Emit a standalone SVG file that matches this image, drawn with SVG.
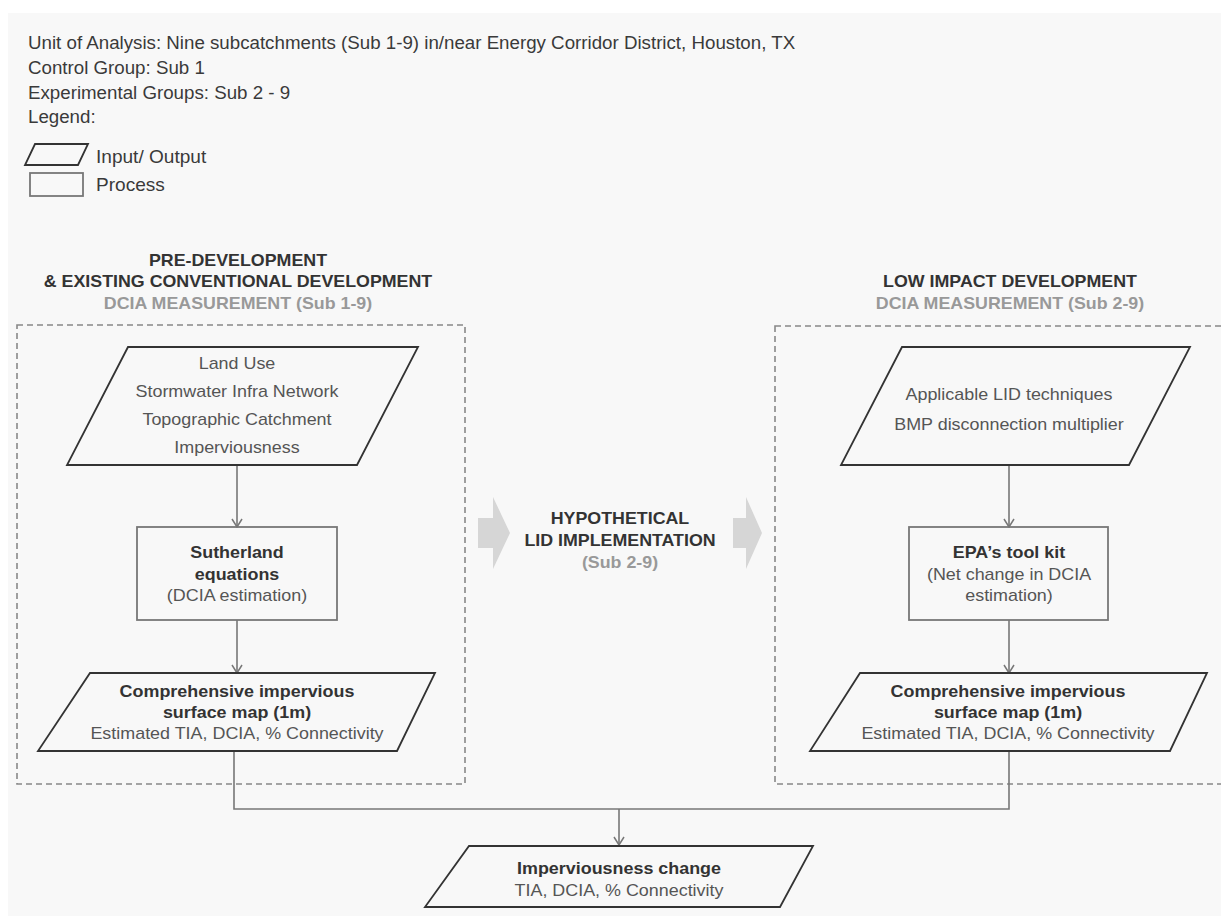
<svg xmlns="http://www.w3.org/2000/svg" width="1221" height="916" viewBox="0 0 1221 916">
<defs>
<style>
text{font-family:"Liberation Sans",Arial,sans-serif;}
.hd{font-size:17.5px;fill:#3a3a3a;}
.tt{font-size:16.5px;font-weight:bold;fill:#333;}
.tg{font-size:16.5px;font-weight:bold;fill:#999;}
.n{font-size:16px;fill:#555;}
.b{font-size:16px;font-weight:bold;fill:#333;}
.io{fill:none;stroke:#333;stroke-width:1.8;}
.pr{fill:none;stroke:#777;stroke-width:1.8;}
.dash{fill:none;stroke:#888;stroke-width:1.6;stroke-dasharray:6 4;}
.con{fill:none;stroke:#777;stroke-width:1.6;}
.blk{fill:#d6d6d6;}
</style>
<marker id="arr" viewBox="-1 -6 10 12" refX="8" refY="0" markerWidth="10" markerHeight="12" markerUnits="userSpaceOnUse" orient="auto">
<path d="M0,-5 L8,0 L0,5" fill="none" stroke="#777" stroke-width="1.5"/>
</marker>
</defs>
<rect x="0" y="0" width="1221" height="916" fill="#ffffff"/>
<rect x="8" y="13" width="1213" height="903" fill="#f8f8f8"/>

<g id="header" transform="translate(28,0) scale(1.07,1)">
<text class="hd" x="0" y="49">Unit of Analysis: Nine subcatchments (Sub 1-9) in/near Energy Corridor District, Houston, TX</text>
<text class="hd" x="0" y="74">Control Group: Sub 1</text>
<text class="hd" x="0" y="99">Experimental Groups: Sub 2 - 9</text>
<text class="hd" x="0" y="123">Legend:</text>
</g>
<g id="legend">
<polygon class="io" points="35,144 88,144 78,165 25,165"/>
<rect x="30" y="173" width="53" height="23" class="pr"/>
<g transform="translate(96,0) scale(1.09,1)">
<text class="hd" x="0" y="163">Input/ Output</text>
<text class="hd" x="0" y="191">Process</text>
</g>
</g>

<g id="title-left" transform="translate(238,0) scale(1.08,1)">
<text class="tt" x="0" y="266" text-anchor="middle">PRE-DEVELOPMENT</text>
<text class="tt" x="0" y="287" text-anchor="middle">&amp; EXISTING CONVENTIONAL DEVELOPMENT</text>
<text class="tg" x="0" y="309" text-anchor="middle">DCIA MEASUREMENT (Sub 1-9)</text>
</g>
<g id="title-right" transform="translate(1010,0) scale(1.08,1)">
<text class="tt" x="0" y="287" text-anchor="middle">LOW IMPACT DEVELOPMENT</text>
<text class="tg" x="0" y="309" text-anchor="middle">DCIA MEASUREMENT (Sub 2-9)</text>
</g>

<g id="group-left"><rect class="dash" x="17" y="325" width="448" height="459"/></g>
<g id="group-right"><rect class="dash" x="775" y="326" width="455" height="458"/></g>

<g id="connectors">
<path class="con" d="M237,465 V527" marker-end="url(#arr)"/>
<path class="con" d="M237,620 V673" marker-end="url(#arr)"/>
<path class="con" d="M1009,465 V527" marker-end="url(#arr)"/>
<path class="con" d="M1009,620 V673" marker-end="url(#arr)"/>
<path class="con" d="M234,751 V809 H1009 V751"/>
<path class="con" d="M619,809 V845" marker-end="url(#arr)"/>
</g>

<g id="lid-implementation">
<polygon class="blk" points="478,518 493,518 493,497 510,533 493,569 493,548 478,548"/>
<polygon class="blk" points="733,518 746,518 746,497 762,533 746,569 746,548 733,548"/>
<g transform="translate(620,0) scale(1.08,1)">
<text class="tt" x="0" y="524" text-anchor="middle">HYPOTHETICAL</text>
<text class="tt" x="0" y="546" text-anchor="middle">LID IMPLEMENTATION</text>
<text class="tg" x="0" y="568" text-anchor="middle">(Sub 2-9)</text>
</g>
</g>

<g id="input-left">
<polygon class="io" points="128,347 418,347 357,465 67,465"/>
<g transform="translate(237,0) scale(1.12,1)">
<text class="n" x="0" y="369" text-anchor="middle">Land Use</text>
<text class="n" x="0" y="397" text-anchor="middle">Stormwater Infra Network</text>
<text class="n" x="0" y="425" text-anchor="middle">Topographic Catchment</text>
<text class="n" x="0" y="453" text-anchor="middle">Imperviousness</text>
</g>
</g>

<g id="process-left">
<rect class="pr" x="137" y="527" width="200" height="93"/>
<g transform="translate(237,0) scale(1.12,1)">
<text class="b" x="0" y="558" text-anchor="middle">Sutherland</text>
<text class="b" x="0" y="580" text-anchor="middle">equations</text>
<text class="n" x="0" y="601" text-anchor="middle">(DCIA estimation)</text>
</g>
</g>

<g id="output-left">
<polygon class="io" points="90,673 435,673 397,751 38,751"/>
<g transform="translate(237,0) scale(1.12,1)">
<text class="b" x="0" y="697" text-anchor="middle">Comprehensive impervious</text>
<text class="b" x="0" y="718" text-anchor="middle">surface map (1m)</text>
<text class="n" x="0" y="739" text-anchor="middle">Estimated TIA, DCIA, % Connectivity</text>
</g>
</g>

<g id="input-right">
<polygon class="io" points="902,347 1190,347 1129,465 841,465"/>
<g transform="translate(1009,0) scale(1.12,1)">
<text class="n" x="0" y="400" text-anchor="middle">Applicable LID techniques</text>
<text class="n" x="0" y="430" text-anchor="middle">BMP disconnection multiplier</text>
</g>
</g>

<g id="process-right">
<rect class="pr" x="909" y="527" width="199" height="93"/>
<g transform="translate(1009,0) scale(1.12,1)">
<text class="b" x="0" y="558" text-anchor="middle">EPA’s tool kit</text>
<text class="n" x="0" y="580" text-anchor="middle">(Net change in DCIA</text>
<text class="n" x="0" y="601" text-anchor="middle">estimation)</text>
</g>
</g>

<g id="output-right">
<polygon class="io" points="860,673 1207,673 1170,751 810,751"/>
<g transform="translate(1008,0) scale(1.12,1)">
<text class="b" x="0" y="697" text-anchor="middle">Comprehensive impervious</text>
<text class="b" x="0" y="718" text-anchor="middle">surface map (1m)</text>
<text class="n" x="0" y="739" text-anchor="middle">Estimated TIA, DCIA, % Connectivity</text>
</g>
</g>

<g id="imperviousness-change">
<polygon class="io" points="469,846 813,846 780,907 425,907"/>
<g transform="translate(619,0) scale(1.12,1)">
<text class="b" x="0" y="874" text-anchor="middle">Imperviousness change</text>
<text class="n" x="0" y="896" text-anchor="middle">TIA, DCIA, % Connectivity</text>
</g>
</g>
</svg>
